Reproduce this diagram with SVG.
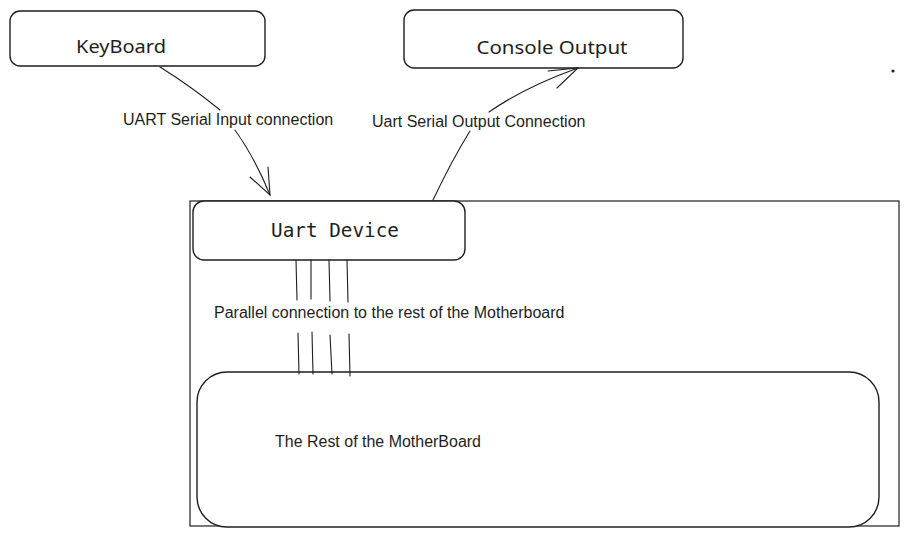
<svg xmlns="http://www.w3.org/2000/svg" width="909" height="538" viewBox="0 0 909 538">
<style>
.box{fill:#fff;stroke:#1e1e1e;stroke-width:1.4}
.frame{fill:none;stroke:#1e1e1e;stroke-width:1.2}
.hand{font-family:"Noto Sans","DejaVu Sans",sans-serif;font-size:18px;fill:#1e1e1e}
.mono{font-family:"DejaVu Sans Mono","Liberation Mono",monospace;font-size:19.2px;fill:#1e1e1e}
.lbl{font-family:"Liberation Sans",Arial,sans-serif;font-size:16px;fill:#1e1e1e}
.ln{fill:none;stroke:#1e1e1e;stroke-width:1.1;stroke-linecap:round}
</style>
<rect width="909" height="538" fill="#fff"/>
<g id="motherboard-frame">
<rect class="frame" x="190" y="201" width="709" height="325"/>
</g>
<g id="keyboard">
<rect class="box" x="10" y="11" width="255" height="55" rx="10"/>
<text class="hand" x="121" y="53" text-anchor="middle" textLength="90" lengthAdjust="spacingAndGlyphs">KeyBoard</text>
</g>
<g id="console-output">
<rect class="box" x="404" y="10" width="279" height="58" rx="10"/>
<text class="hand" x="552" y="54" text-anchor="middle" textLength="151" lengthAdjust="spacingAndGlyphs">Console Output</text>
</g>
<g id="uart-device">
<rect class="box" x="193" y="201" width="272" height="59" rx="11"/>
<text class="mono" x="335" y="237" text-anchor="middle" textLength="128" lengthAdjust="spacingAndGlyphs">Uart Device</text>
</g>
<g id="rest-of-motherboard">
<rect class="box" x="197" y="372" width="682" height="155" rx="30"/>
<text class="lbl" x="275" y="447" textLength="206" lengthAdjust="spacingAndGlyphs">The Rest of the MotherBoard</text>
</g>
<g id="dot">
<circle cx="893" cy="71" r="1.6" fill="#1e1e1e"/>
</g>
<g id="connectors">
<path class="ln" d="M160 67 Q192 87 220 110"/>
<path class="ln" d="M235 130 Q255 158 270 195"/>
<path class="ln" d="M250 177 L270 195 L268 167"/>
<text class="lbl" x="123" y="125">UART Serial Input connection</text>
<path class="ln" d="M433 200 Q452 160 470 131"/>
<path class="ln" d="M489 112 Q525 87 578 68"/>
<path class="ln" d="M557 88 L578 68 L548 71"/>
<text class="lbl" x="372" y="127">Uart Serial Output Connection</text>
<path class="ln" d="M296 260 L297 300 M311 260 L311 299 M329 260 L330 301 M347 260 L348 302"/>
<path class="ln" d="M298 333 L299 374 M312 332 L313 374 M330 335 L332 374 M349 334 L350 376"/>
<text class="lbl" x="214" y="318">Parallel connection to the rest of the Motherboard</text>
</g>
</svg>
